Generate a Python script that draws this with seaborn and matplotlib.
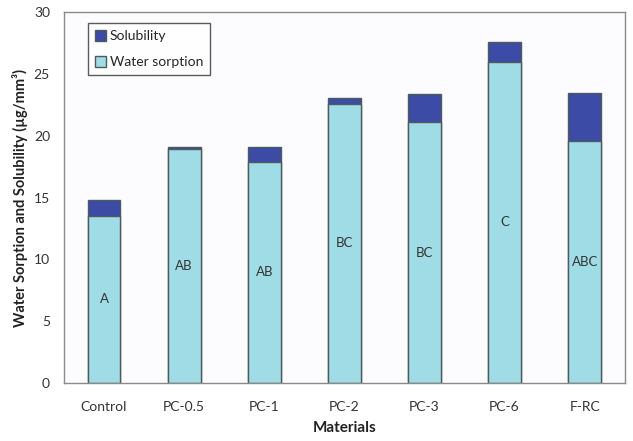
import matplotlib
matplotlib.use("Agg")
from matplotlib import pyplot
import seaborn as sns
import pandas as pd

# ----------- data -----------------------------------
materials = ['Control', 'PC-0.5', 'PC-1', 'PC-2', 'PC-3', 'PC-6', 'F-RC']
water_sorption = [13.5, 18.9, 17.9, 22.6, 21.1, 26.0, 19.6]
solubility = [1.3, 0.2, 1.2, 0.5, 2.3, 1.6, 3.9]
groups = ['A', 'AB', 'AB', 'BC', 'BC', 'C', 'ABC']

sns.set_theme(style="white")
pyplot.rcParams['font.family'] = ['Lato', 'DejaVu Sans']

df = pd.DataFrame({'Materials': materials,
                   'sorption': water_sorption,
                   'solubility': solubility})
df['total'] = df['sorption'] + df['solubility']

fig, ax = pyplot.subplots(figsize=(6.33, 4.41), dpi=100)
fig.subplots_adjust(left=0.101, right=0.987, top=0.972, bottom=0.132)
ax.set_facecolor('#fcfcfe')

dark = '#3c4ba5'
light = '#a0dce6'
edge = '#4d5a5e'

sns.barplot(data=df, x='Materials', y='total', color=dark, edgecolor=edge,
            linewidth=1.0, width=0.41, saturation=1, ax=ax, label='Solubility')
sns.barplot(data=df, x='Materials', y='sorption', color=light, edgecolor=edge,
            linewidth=1.0, width=0.41, saturation=1, ax=ax, label='Water sorption')

for i, (g, s) in enumerate(zip(groups, water_sorption)):
    ax.text(i, s / 2, g, ha='center', va='center', fontsize=9.5, color='#333333')

ax.set_ylim(0, 30)
ax.set_xlim(-0.5, len(materials) - 0.5)
ax.set_yticks(range(0, 31, 5))
ax.set_xticks(range(len(materials)))
ax.set_xticks([i + 0.5 for i in range(-1, len(materials))], minor=True)
ax.tick_params(axis='x', which='major', length=0, labelsize=10, colors='#333333', pad=13)
ax.tick_params(axis='x', which='minor', length=4, color='#999999', direction='out')
ax.tick_params(axis='y', length=4, color='#999999', direction='out', labelsize=10,
               colors='#333333', pad=6)
ax.tick_params(axis='y', colors='#999999', labelcolor='#333333')

ax.set_xlabel('Materials', fontsize=11, fontweight='bold', color='#222222', labelpad=6)
ax.set_ylabel('Water Sorption and Solubility (µg/mm³)', fontsize=10.5,
              fontweight='bold', color='#222222', labelpad=4)

for sp in ax.spines.values():
    sp.set_visible(True)
    sp.set_color('#8a8a8a')
    sp.set_linewidth(1.0)

leg = ax.legend(loc='upper left', bbox_to_anchor=(0.03, 0.99), fontsize=10,
                frameon=True, fancybox=False, edgecolor='#333333',
                handlelength=0.8, handleheight=0.8, handletextpad=0.3,
                labelspacing=1.0, borderpad=0.5)
leg.get_frame().set_linewidth(1.0)

fig.savefig('out.png', dpi=100)
